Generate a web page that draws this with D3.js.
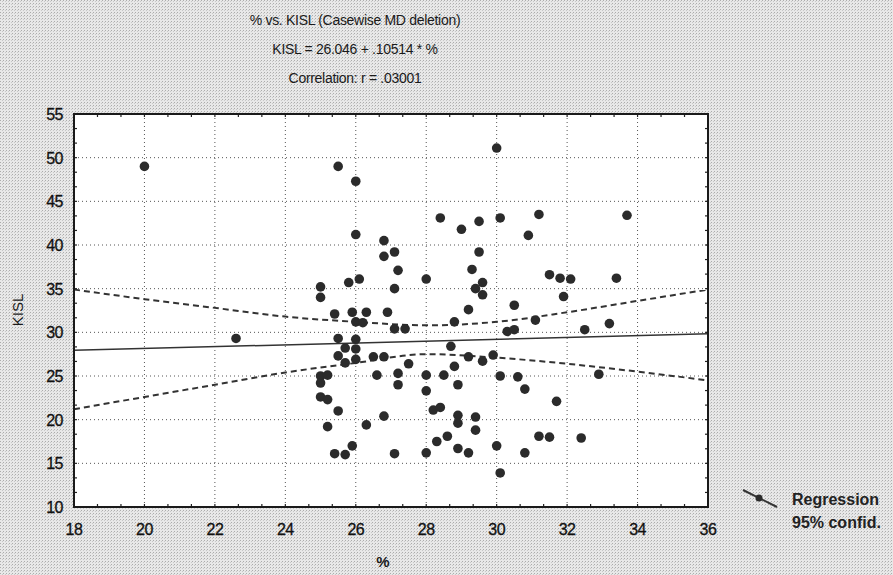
<!DOCTYPE html>
<html lang="en">
<head>
<meta charset="UTF-8">
<title>% vs. KISL</title>
<script src="https://d3js.org/d3.v7.min.js"></script>
<style>
    body { margin: 0; background: #e6e6e6; }
    svg { display: block; font-family: "Liberation Sans", Arial, sans-serif; }
    .grid line { stroke: #555; stroke-dasharray: 1,3; stroke-width: 1; }
    .ticklabel { font-size: 16px; fill: #111; stroke: #111; stroke-width: 0.3; letter-spacing: -0.5px; }
</style>
</head>
<body>
<svg id="chart" width="893" height="575"></svg>
<script>
    // scatter values
    const pct = [20.0, 22.6, 25.5, 26.0, 30.0, 28.4, 29.0, 29.5, 30.1, 31.2, 33.7, 26.0, 26.8, 26.8, 27.1, 27.2,
        29.5, 29.3, 30.9, 28.0, 29.6, 29.4, 29.6, 26.1, 25.8, 25.0, 25.0, 27.1, 31.5, 31.8, 32.1, 33.4,
        31.9, 30.5, 29.2, 25.4, 25.9, 26.3, 26.9, 26.0, 26.2, 27.1, 27.4, 28.8, 30.3, 30.5, 31.1, 33.2,
        32.5, 25.5, 26.0, 25.7, 26.0, 28.7, 25.5, 25.7, 26.0, 26.5, 26.8, 27.5, 29.2, 29.6, 29.9, 25.0,
        25.2, 25.0, 26.6, 27.2, 27.2, 28.0, 28.5, 28.8, 28.0, 28.9, 30.1, 30.6, 30.8, 32.9, 25.0, 25.2,
        25.5, 25.2, 26.3, 26.8, 28.2, 28.4, 28.9, 28.9, 29.4, 29.4, 28.3, 28.6, 28.9, 29.2, 30.0, 30.8,
        25.4, 25.7, 25.9, 27.1, 28.0, 30.1, 31.7, 31.2, 31.5, 32.4];
    const kisl = [49.0, 29.3, 49.0, 47.3, 51.1, 43.1, 41.8, 42.7, 43.1, 43.5, 43.4, 41.2, 40.5, 38.7, 39.2, 37.1,
        39.2, 37.2, 41.1, 36.1, 35.7, 35.0, 34.3, 36.1, 35.7, 35.2, 34.0, 35.0, 36.6, 36.2, 36.1, 36.2,
        34.1, 33.1, 32.6, 32.1, 32.3, 32.3, 32.3, 31.2, 31.1, 30.4, 30.4, 31.2, 30.1, 30.3, 31.4, 31.0,
        30.3, 29.3, 29.2, 28.2, 28.1, 28.4, 27.3, 26.5, 26.9, 27.2, 27.2, 26.4, 27.2, 26.7, 27.4, 25.0,
        25.1, 24.2, 25.1, 25.3, 24.0, 25.1, 25.1, 26.1, 23.3, 24.0, 25.0, 24.9, 23.5, 25.2, 22.6, 22.3,
        21.0, 19.2, 19.4, 20.4, 21.1, 21.4, 20.5, 19.6, 20.3, 18.8, 17.5, 18.1, 16.7, 16.2, 17.0, 16.2,
        16.1, 16.0, 17.0, 16.1, 16.2, 13.9, 22.1, 18.1, 18.0, 17.9];

    // regression line ends and 95% confidence band, read at each x tick
    const regX = [18, 36];
    const regY = [27.94, 29.83];
    const bandX = [18, 20, 22, 24, 26, 28, 30, 32, 34, 36];
    const upper = [34.9, 33.8, 32.8, 31.8, 31.2, 30.8, 31.2, 32.3, 33.6, 34.9];
    const lower = [21.2, 22.6, 24.0, 25.4, 26.5, 27.5, 27.1, 26.4, 25.5, 24.5];

    const xTicks = [18, 20, 22, 24, 26, 28, 30, 32, 34, 36];
    const yTicks = [10, 15, 20, 25, 30, 35, 40, 45, 50, 55];
    const titles = ["% vs. KISL (Casewise MD deletion)", "KISL = 26.046 + .10514 * %", "Correlation: r = .03001"];
    const legendLabels = ["Regression", "95% confid."];

    const svg = d3.select("#chart");

    // speckled scan-like background
    const pat = svg.append("defs").append("pattern")
        .attr("id", "speck").attr("width", 3).attr("height", 3)
        .attr("patternUnits", "userSpaceOnUse");
    pat.append("rect").attr("width", 3).attr("height", 3).attr("fill", "#e8e8e8");
    pat.append("rect").attr("width", 1).attr("height", 1).attr("fill", "#acacac");
    pat.append("rect").attr("x", 2).attr("y", 1).attr("width", 1).attr("height", 1).attr("fill", "#c8c8c8");
    svg.append("rect").attr("width", 893).attr("height", 575).attr("fill", "url(#speck)");

    const margin = { top: 114, left: 74 };
    const width = 634, height = 393;

    const x = d3.scaleLinear().domain([18, 36]).range([0, width]);
    const y = d3.scaleLinear().domain([10, 55]).range([height, 0]);

    const g = svg.append("g").attr("transform", `translate(${margin.left},${margin.top})`);

    g.append("rect").attr("width", width).attr("height", height).attr("fill", "#fff");

    // dotted grid
    const grid = g.append("g").attr("class", "grid");
    xTicks.slice(1, -1).forEach(t => {
        grid.append("line").attr("x1", x(t)).attr("x2", x(t)).attr("y1", 0).attr("y2", height);
    });
    yTicks.slice(1, -1).forEach(t => {
        grid.append("line").attr("x1", 0).attr("x2", width).attr("y1", y(t)).attr("y2", y(t));
    });

    // inner minor ticks on all sides
    const minorX = d3.range(18, 36.01, 2 / 3);
    const minorY = d3.range(10, 55.01, 5 / 3);
    const ticks = g.append("g").attr("stroke", "#222").attr("stroke-width", 1.2);
    minorX.forEach(t => {
        ticks.append("line").attr("x1", x(t)).attr("x2", x(t)).attr("y1", 0).attr("y2", 3);
        ticks.append("line").attr("x1", x(t)).attr("x2", x(t)).attr("y1", height).attr("y2", height - 3);
    });
    minorY.forEach(t => {
        ticks.append("line").attr("x1", 0).attr("x2", 3).attr("y1", y(t)).attr("y2", y(t));
        ticks.append("line").attr("x1", width).attr("x2", width - 3).attr("y1", y(t)).attr("y2", y(t));
    });

    // confidence band
    const band = d3.line().curve(d3.curveMonotoneX).x(d => x(d[0])).y(d => y(d[1]));
    [upper, lower].forEach(arr => {
        g.append("path")
            .datum(bandX.map((v, i) => [v, arr[i]]))
            .attr("fill", "none")
            .attr("stroke", "#333")
            .attr("stroke-width", 2)
            .attr("stroke-dasharray", "6,4")
            .attr("d", band);
    });

    // regression line
    g.append("path")
        .datum(regX.map((v, i) => [v, regY[i]]))
        .attr("fill", "none")
        .attr("stroke", "#333")
        .attr("stroke-width", 1.5)
        .attr("d", d3.line().x(d => x(d[0])).y(d => y(d[1])));

    // points
    g.selectAll("circle.pt")
        .data(pct.map((v, i) => [v, kisl[i]]))
        .enter().append("circle")
        .attr("class", "pt")
        .attr("cx", d => x(d[0]))
        .attr("cy", d => y(d[1]))
        .attr("r", 4.8)
        .attr("fill", "#2b2b2b");

    // frame
    g.append("rect").attr("width", width).attr("height", height)
        .attr("fill", "none").attr("stroke", "#1a1a1a").attr("stroke-width", 2);

    // tick labels
    g.selectAll("text.xl").data(xTicks).enter().append("text")
        .attr("class", "ticklabel")
        .attr("x", d => x(d)).attr("y", height + 28)
        .attr("text-anchor", "middle")
        .text(d => d);
    g.selectAll("text.yl").data(yTicks).enter().append("text")
        .attr("class", "ticklabel")
        .attr("x", -11).attr("y", d => y(d) + 6)
        .attr("text-anchor", "end")
        .text(d => d);

    // axis titles
    svg.append("text")
        .attr("transform", "translate(23,310) rotate(-90)")
        .attr("text-anchor", "middle")
        .attr("font-size", 15).attr("fill", "#1a1a1a")
        .text("KISL");
    svg.append("text")
        .attr("x", 383).attr("y", 567)
        .attr("text-anchor", "middle")
        .attr("font-size", 15).attr("font-weight", "bold").attr("fill", "#1a1a1a")
        .text("%");

    // titles
    titles.forEach((t, i) => {
        svg.append("text")
            .attr("x", 355).attr("y", 25 + i * 29)
            .attr("text-anchor", "middle")
            .attr("font-size", 14).attr("letter-spacing", "-0.3px").attr("fill", "#1a1a1a")
            .text(t);
    });

    // legend
    const lg = svg.append("g");
    lg.append("line").attr("x1", 743).attr("y1", 490).attr("x2", 777).attr("y2", 507)
        .attr("stroke", "#333").attr("stroke-width", 2);
    lg.append("circle").attr("cx", 759).attr("cy", 498).attr("r", 3.5).attr("fill", "#2b2b2b");
    legendLabels.forEach((t, i) => {
        lg.append("text")
            .attr("x", 792).attr("y", 505 + i * 23)
            .attr("font-size", 16).attr("font-weight", "bold").attr("fill", "#222")
            .text(t);
    });
</script>
</body>
</html>
